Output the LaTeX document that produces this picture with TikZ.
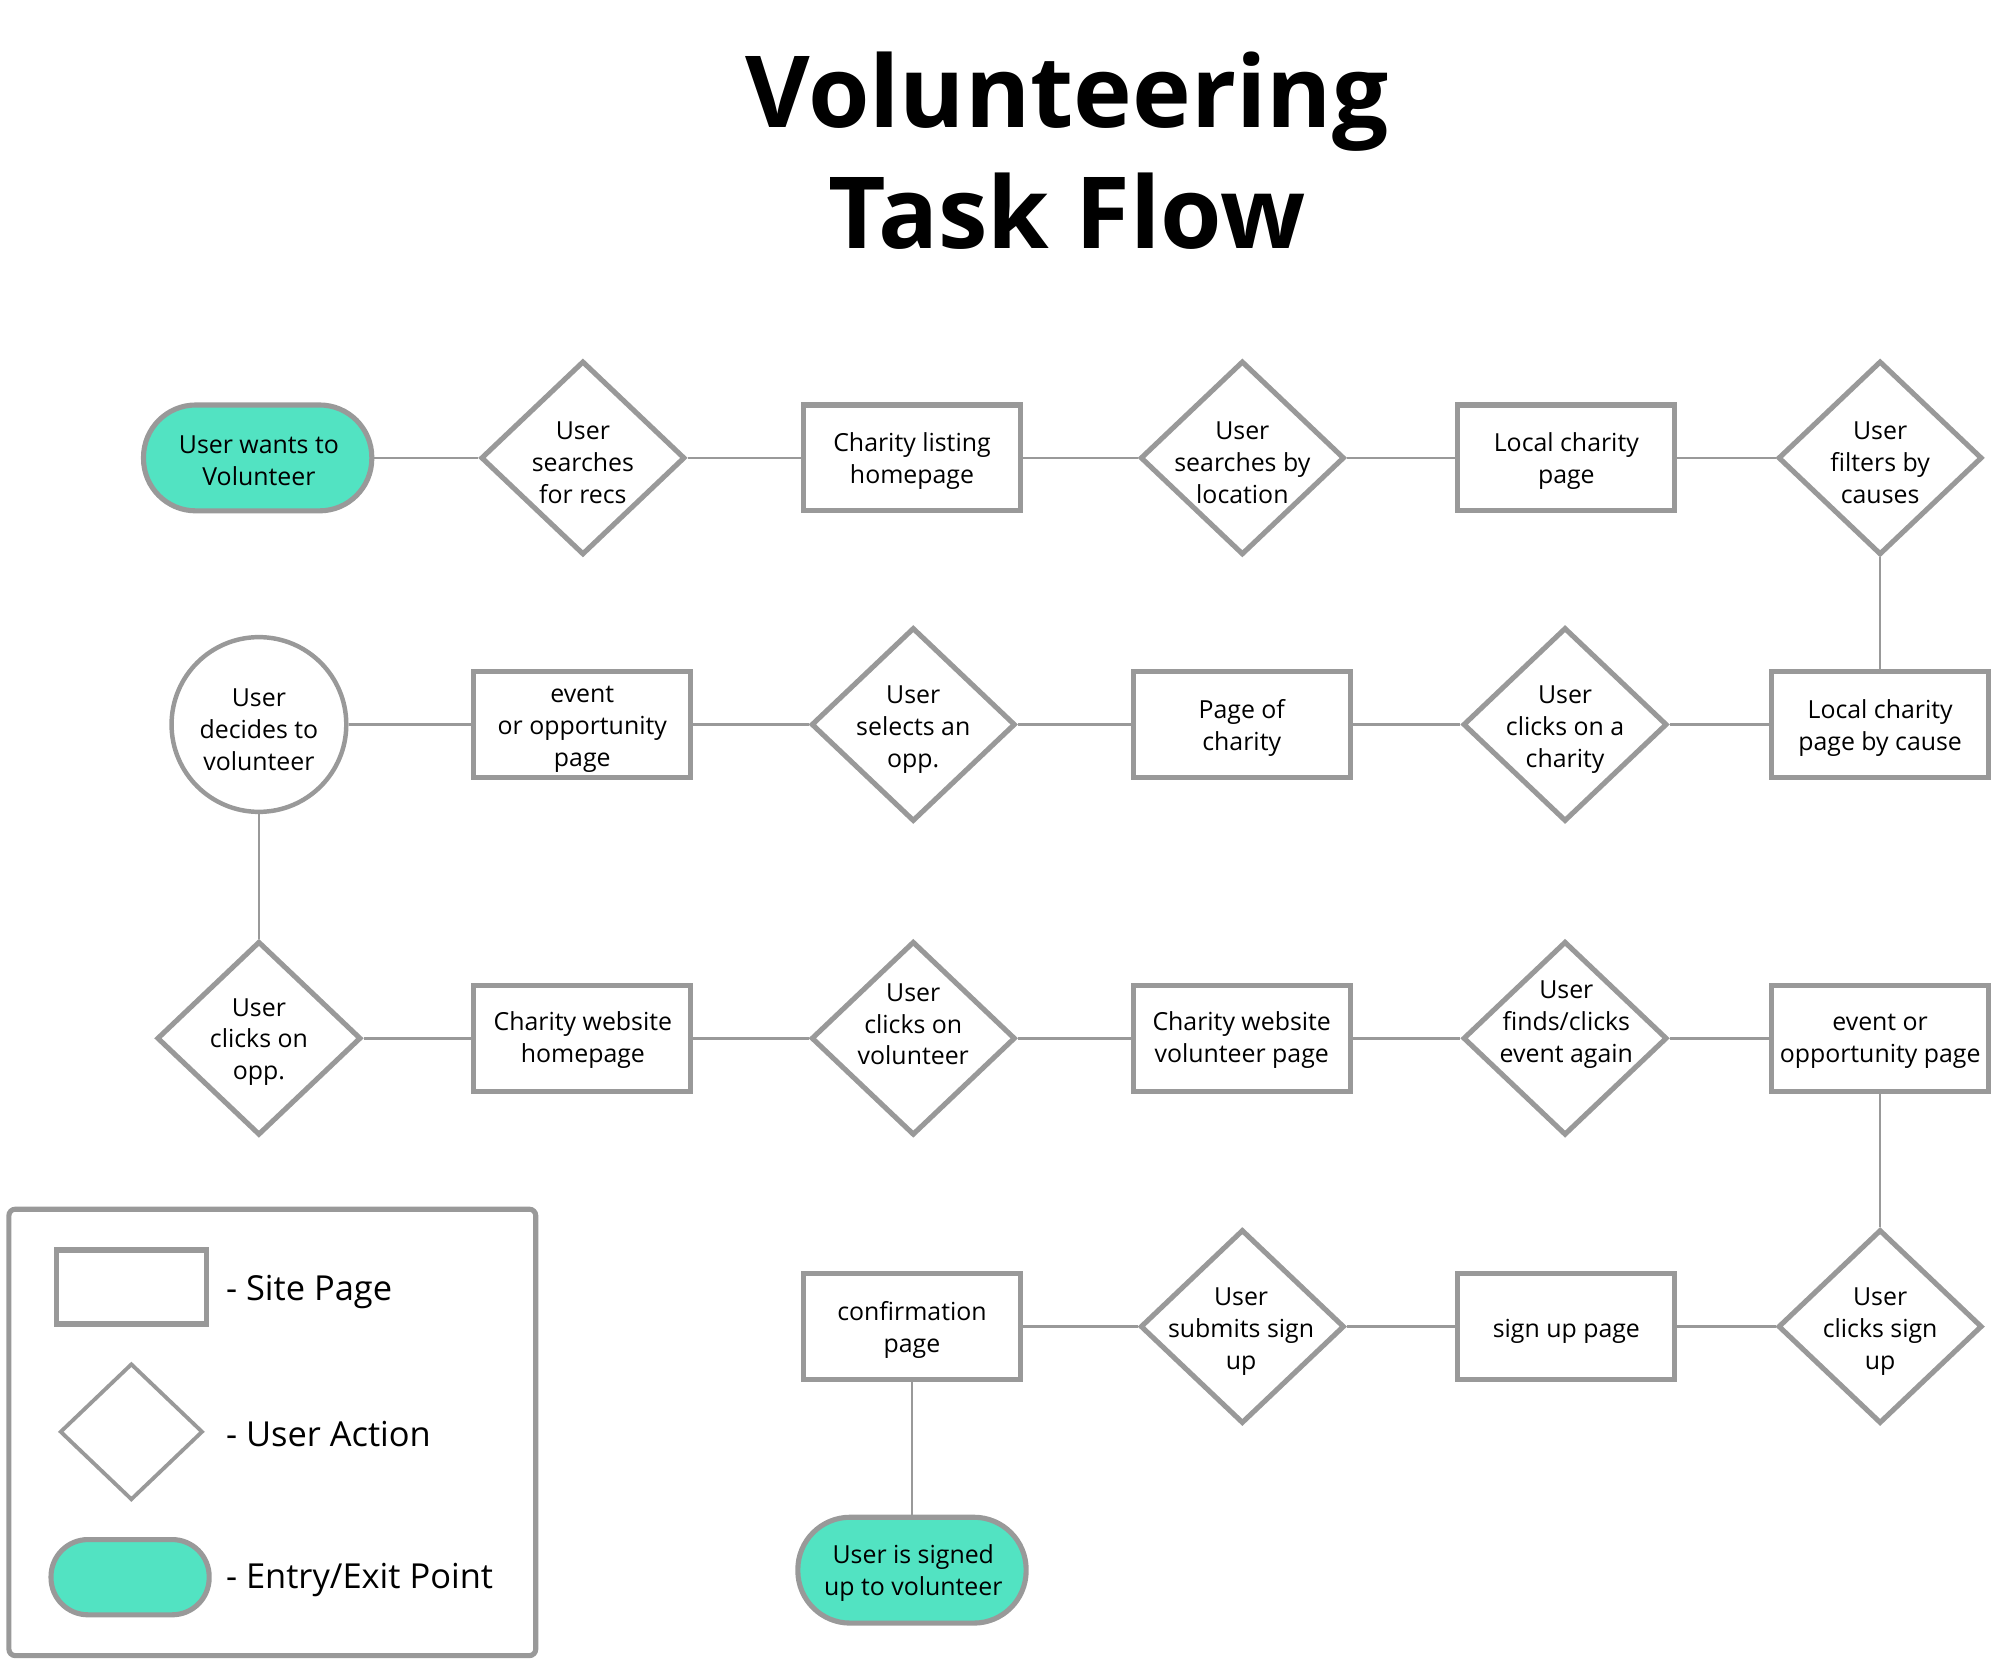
\documentclass[tikz,border=0pt]{standalone}
\usepackage{fontspec}
\setmainfont{Open Sans}
\usetikzlibrary{shapes.geometric}
\definecolor{edgegray}{HTML}{999999}
\definecolor{mint}{HTML}{52E3C2}
\begin{document}
\begin{tikzpicture}[x=1pt,y=-1pt,
  pagebox/.style={draw=edgegray, line width=4pt, fill=white, minimum width=170pt, minimum height=83pt, inner sep=0pt},
  actbox/.style={diamond, draw=edgegray, line width=4pt, fill=white, minimum width=160pt, minimum height=152pt, inner sep=0pt},
  termbox/.style={draw=edgegray, line width=4pt, fill=mint, rounded corners=41pt, minimum width=179pt, minimum height=83pt, inner sep=0pt},
  circbox/.style={circle, draw=edgegray, line width=3.5pt, fill=white, minimum size=137pt, inner sep=0pt},
  txt/.style={align=center, font=\fontsize{19.5}{25}\selectfont, inner sep=0pt, text=black, yshift=-2pt},
  lgtxt/.style={anchor=west, font=\fontsize{27}{32}\selectfont, inner sep=0pt, text=black, yshift=-2pt},
  ttl/.style={anchor=base, font=\fontsize{78}{95}\selectfont\bfseries, inner sep=0pt},
  link/.style={draw=edgegray, line width=2pt}]
\useasboundingbox (0,0) rectangle (1568,1300.7);

% title
\node[ttl] (t1) at (836.5,100) {Volunteering};
\node[ttl] (t2) at (836.5,195) {Task Flow};

% row 1
\node[termbox] (e1) at (202,359) {};
\node[actbox] (a1) at (457,359) {};
\node[pagebox] (p1) at (715,359) {};
\node[actbox] (a2) at (974,359) {};
\node[pagebox] (p2) at (1228,359) {};
\node[actbox] (a3) at (1474,359) {};

% row 2
\node[circbox] (c1) at (203,568) {};
\node[pagebox] (p3) at (456.5,568) {};
\node[actbox] (a4) at (716,568) {};
\node[pagebox] (p4) at (973.5,568) {};
\node[actbox] (a5) at (1227,568) {};
\node[pagebox] (p5) at (1474,568) {};

% row 3
\node[actbox] (a6) at (203,814) {};
\node[pagebox] (p6) at (456.5,814) {};
\node[actbox] (a7) at (716,814) {};
\node[pagebox] (p7) at (973.5,814) {};
\node[actbox] (a8) at (1227,814) {};
\node[pagebox] (p8) at (1474,814) {};

% row 4
\node[pagebox] (p9) at (715,1040) {};
\node[actbox] (a9) at (974,1040) {};
\node[pagebox] (p10) at (1228,1040) {};
\node[actbox] (a10) at (1474,1040) {};
\node[termbox] (e2) at (715,1231) {};

% connectors
\draw[link] (e1) -- (a1);
\draw[link] (a1) -- (p1);
\draw[link] (p1) -- (a2);
\draw[link] (a2) -- (p2);
\draw[link] (p2) -- (a3);
\draw[link] (a3) -- (p5);
\draw[link] (p5) -- (a5);
\draw[link] (a5) -- (p4);
\draw[link] (p4) -- (a4);
\draw[link] (a4) -- (p3);
\draw[link] (p3) -- (c1);
\draw[link] (c1) -- (a6);
\draw[link] (a6) -- (p6);
\draw[link] (p6) -- (a7);
\draw[link] (a7) -- (p7);
\draw[link] (p7) -- (a8);
\draw[link] (a8) -- (p8);
\draw[link] (p8) -- (a10);
\draw[link] (a10) -- (p10);
\draw[link] (p10) -- (a9);
\draw[link] (a9) -- (p9);
\draw[link] (p9) -- (e2);

% texts
\node[txt] (e1t) at (203,359.5) {User wants to\\Volunteer};
\node[txt] (a1t) at (457,361) {User\\searches\\for recs};
\node[txt] (p1t) at (715,359.5) {Charity listing\\homepage};
\node[txt] (a2t) at (974,361) {User\\searches by\\location};
\node[txt] (p2t) at (1228,359.5) {Local charity\\page};
\node[txt] (a3t) at (1474,361) {User\\filters by\\causes};

\node[txt] (c1t) at (203,570) {User\\decides to\\volunteer};
\node[txt] (p3t) at (456.5,570) {event\\or opportunity\\page};
\node[txt] (a4t) at (716,570) {User\\selects an\\opp.};
\node[txt] (p4t) at (973.5,568.5) {Page of\\charity};
\node[txt] (a5t) at (1227,570) {User\\clicks on a\\charity};
\node[txt] (p5t) at (1474,568.5) {Local charity\\page by cause};

\node[txt] (a6t) at (203,815) {User\\clicks on\\opp.};
\node[txt] (p6t) at (457,813.5) {Charity website\\homepage};
\node[txt] (a7t) at (716,801) {User\\clicks on\\volunteer};
\node[txt] (p7t) at (973.5,813.5) {Charity website\\volunteer page};
\node[txt] (a8t) at (1228,801) {User\\finds/clicks\\event again};
\node[txt] (p8t) at (1474,814.5) {event or\\opportunity page};

\node[txt] (p9t) at (715,1040.5) {confirmation\\page};
\node[txt] (a9t) at (973,1042) {User\\submits sign\\up};
\node[txt] (p10t) at (1228,1042) {sign up page};
\node[txt] (a10t) at (1474,1042) {User\\clicks sign\\up};
\node[txt] (e2t) at (716,1231.5) {User is signed\\up to volunteer};

% legend
\node[draw=edgegray, line width=4pt, rounded corners=5pt, minimum width=413pt, minimum height=350pt, anchor=north west, inner sep=0pt] (legend) at (5,946) {};
\node[pagebox, minimum width=118pt, minimum height=58pt] (lg1) at (103,1009) {};
\node[actbox, line width=3pt, minimum width=112pt, minimum height=107pt] (lg2) at (103,1122.5) {};
\node[termbox, minimum width=124pt, minimum height=59pt, rounded corners=29pt] (lg3) at (102,1236.5) {};
\node[lgtxt] (lt1) at (177,1011) {- Site Page};
\node[lgtxt] (lt2) at (177,1122) {- User Action};
\node[lgtxt] (lt3) at (177,1237) {- Entry/Exit Point};
\end{tikzpicture}
\end{document}
